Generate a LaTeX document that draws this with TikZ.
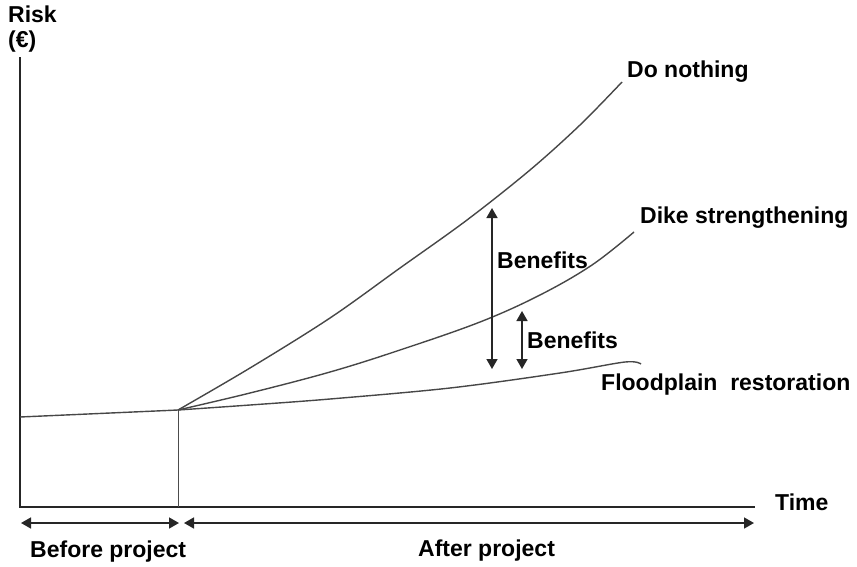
\documentclass[tikz,border=0pt]{standalone}
\usepackage{fontspec}
\setmainfont{Liberation Sans}
\usetikzlibrary{arrows.meta}
\begin{document}
\begin{tikzpicture}[x=1pt,y=-1pt,
  lbl/.style={font=\fontsize{23}{27}\selectfont\bfseries, inner sep=0pt, anchor=base west},
  axisline/.style={line width=1.7pt, draw=black!85},
  curve/.style={line width=1.4pt, draw=black!72},
  dbl/.style={line width=1.6pt, draw=black!85, {Triangle[length=10pt,width=11pt]}-{Triangle[length=10pt,width=11pt]}}]
\useasboundingbox (0,0) rectangle (857,566);
% coordinates
\coordinate (ytop) at (20,57);
\coordinate (orig) at (20,507);
\coordinate (xend) at (755,507);
\coordinate (base) at (20,417);
\coordinate (o) at (178,410);
\coordinate (ofoot) at (178,507);
% axes
\draw[axisline] (ytop) -- (orig) -- (xend);
\draw[line width=0.8pt, draw=black!70] (o) -- (ofoot);
% baseline before project
\draw[curve] (base) -- (o);
% curves
\draw[curve] plot[smooth, tension=0.55] coordinates {(o) (250,368) (330,318) (400,268) (467,220) (530,170) (580,125) (622,82)};
\draw[curve] plot[smooth, tension=0.6] coordinates {(o) (250,393) (330,372) (400,350) (480,322) (540,295) (592,265) (634,232)};
\draw[curve] plot[smooth, tension=0.55] coordinates {(o) (250,405) (330,399) (450,388) (560,373) (625,362) (641,364)};
% benefits arrows
\coordinate (b1t) at (492,208);
\coordinate (b1b) at (492,369);
\coordinate (b2t) at (522,311);
\coordinate (b2b) at (522,369);
\draw[dbl] (b1t) -- (b1b);
\draw[dbl] (b2t) -- (b2b);
% bottom arrows
\coordinate (bpl) at (21,523);
\coordinate (bpr) at (179,523);
\coordinate (apl) at (184,523);
\coordinate (apr) at (754,523);
\draw[dbl] (bpl) -- (bpr);
\draw[dbl] (apl) -- (apr);
% labels
\node[lbl] (risk) at (8,22) {Risk};
\node[lbl] (eur) at (8,47) {(€)};
\node[lbl] (time) at (775,510) {Time};
\node[lbl] (donothing) at (627,77) {Do nothing};
\node[lbl] (dike) at (640,223) {Dike strengthening};
\node[lbl] (flood) at (601,390) {Floodplain\ \ restoration};
\node[lbl] (ben1) at (497,268) {Benefits};
\node[lbl] (ben2) at (527,348) {Benefits};
\node[lbl] (before) at (30,557) {Before project};
\node[lbl] (after) at (418,556) {After project};
\end{tikzpicture}
\end{document}
